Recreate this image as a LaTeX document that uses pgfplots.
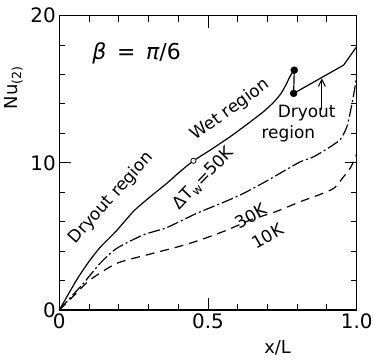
\documentclass[border=0pt]{standalone}
\usepackage{fontspec}
\setmainfont{DejaVu Sans}
\usepackage{pgfplots}
\pgfplotsset{compat=1.18}
\usetikzlibrary{calc,arrows.meta}
\begin{document}
\begin{tikzpicture}
\begin{axis}[
  scale only axis, width=297.4bp, height=294.3bp,
  xmin=0, xmax=1, ymin=0, ymax=20,
  xtick={0,0.5,1}, xticklabels={0,0.5,1.0},
  minor xtick={0.1,0.2,0.3,0.4,0.6,0.7,0.8,0.9},
  ytick={0,10,20}, yticklabels={0,10,20},
  minor ytick={2,4,6,8,12,14,16,18},
  tick align=inside, major tick length=12bp, minor tick length=6bp,
  axis line style={line width=1.2pt},
  every tick/.style={line width=1pt, black},
  ticklabel style={font=\fontsize{20}{24}\selectfont},
  /pgf/number format/assume math mode=true,
  clip=false,
]
% Delta T_w = 50K
\addplot[black, line width=1.2pt, smooth, tension=0.4] coordinates {
 (0,0) (0.06,2.1) (0.1,3.3) (0.137,4.25) (0.193,5.4) (0.249,6.7) (0.30,7.6)
 (0.361,8.6) (0.40,9.3) (0.451,10.14) (0.51,10.9) (0.574,11.77) (0.63,12.6)
 (0.686,13.47) (0.72,14.1) (0.745,14.7) (0.762,15.3) (0.778,15.96) (0.79,16.3)};
\addplot[black, line width=1.2pt] coordinates {(0.79,16.3) (0.788,14.72)};
\addplot[black, line width=1.2pt] coordinates {(0.788,14.72) (0.956,16.64) (1.0,17.9)};
\addplot[black, only marks, mark=*, mark size=3.5pt] coordinates {(0.79,16.3) (0.788,14.72)};
\addplot[black, only marks, mark=*, mark size=2.6pt, mark options={fill=white, line width=0.8pt}] coordinates {(0.451,10.14)};
% 30K
\addplot[black, line width=1.2pt, smooth, tension=0.4, dash pattern=on 12pt off 3pt on 2pt off 3pt] coordinates {
 (0,0) (0.04,0.9) (0.081,1.81) (0.137,3.17) (0.193,4.19) (0.282,5.1) (0.361,5.6)
 (0.462,6.57) (0.55,7.3) (0.62,7.93) (0.70,8.8) (0.76,9.5) (0.81,10.07) (0.855,10.41)
 (0.911,11.09) (0.945,11.6) (0.967,12.45) (0.982,13.8) (0.993,15.0) (1.0,16.0)};
% 10K
\addplot[black, line width=1.2pt, smooth, tension=0.4, dash pattern=on 9pt off 6pt] coordinates {
 (0,0) (0.05,1.0) (0.103,2.04) (0.193,3.17) (0.305,3.8) (0.40,4.3) (0.474,4.76)
 (0.56,5.4) (0.642,6.11) (0.73,6.7) (0.81,7.36) (0.87,7.8) (0.923,8.27) (0.956,9.06)
 (0.98,9.7) (1.0,10.6)};
\draw[-{Straight Barb[length=7pt,width=7pt]}, line width=1pt] (axis cs:0.883,13.59) -- (axis cs:0.883,15.74);
\begin{scope}[font=\fontsize{17}{20}\selectfont]
\node[rotate=48] at (axis cs:0.175,7.6) {Dryout region};
\node[rotate=36] at (axis cs:0.575,13.6) {Wet region};
\node[rotate=46] at (axis cs:0.485,8.95) {ΔT\textsubscript{w}=50K};
\node[rotate=30] at (axis cs:0.644,6.39) {30K};
\node[rotate=30] at (axis cs:0.70,5.03) {10K};
\node at (axis cs:0.832,13.36) {Dryout};
\node at (axis cs:0.77,12.0) {region};
\end{scope}
\node[font=\fontsize{22}{26}\selectfont] at (axis cs:0.26,17.44) {\textit{β}\, =\, \textit{π}/6};
\node[font=\fontsize{18}{21}\selectfont] at (axis description cs:0.734,-0.13) {x/L};
\node[font=\fontsize{18}{21}\selectfont, rotate=90] at (axis description cs:-0.154,0.756) {Nu\textsubscript{(2)}};
\end{axis}
\pgfresetboundingbox
\path ($(current axis.south west)+(-59.3bp,-51bp)$) rectangle ($(current axis.north east)+(16.3bp,15.7bp)$);
\end{tikzpicture}
\end{document}
